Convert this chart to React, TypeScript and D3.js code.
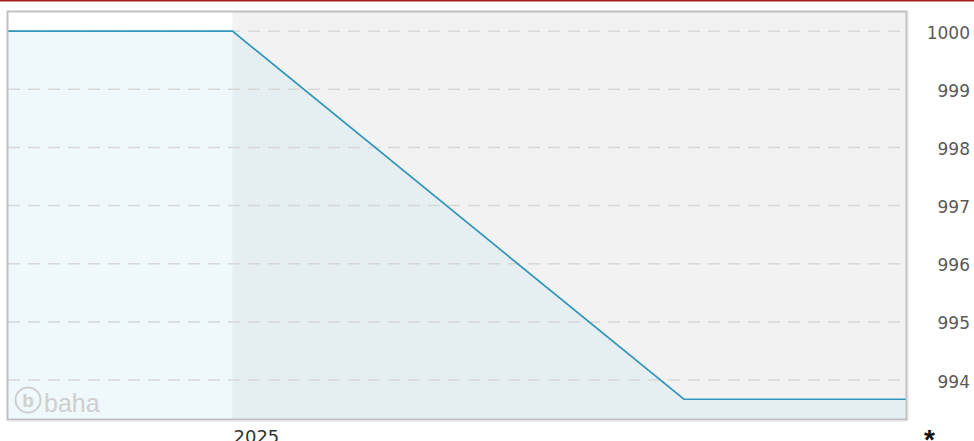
import { useEffect, useRef } from 'react'
import * as d3 from 'd3'

// time points and values of the series
const dates = ['2024-10-02', '2025-01-01', '2025-07-03', '2025-10-01']
const values = [1000, 1000, 993.67, 993.67]
const yTicks = [994, 995, 996, 997, 998, 999, 1000]
const xTickLabels = ['2025']
const highlightStart = '2025-01-01'

const W = 974
const H = 441

export default function App() {
  const svgRef = useRef<SVGSVGElement>(null)

  useEffect(() => {
    if (!svgRef.current) return
    const svg = d3.select(svgRef.current)
    svg.selectAll('*').remove()

    const left = 8
    const right = 906
    const top = 12
    const bottom = 419
    const font = 'DejaVu Sans, Verdana, sans-serif'

    const parse = d3.timeParse('%Y-%m-%d')
    const data = dates.map((d, i) => ({ date: parse(d)!, value: values[i] }))

    const x = d3
      .scaleTime()
      .domain(d3.extent(data, d => d.date) as [Date, Date])
      .range([left, right])
    const y = d3.scaleLinear().domain([993.33, 1000.33]).range([bottom, top])

    // top red rule
    svg.append('rect').attr('x', 0).attr('y', 0).attr('width', W).attr('height', 1.5).attr('fill', '#a61c1c')

    // backgrounds
    const hx = x(parse(highlightStart)!)
    svg.append('rect').attr('x', left).attr('y', top).attr('width', hx - left).attr('height', bottom - top).attr('fill', '#ffffff')
    svg.append('rect').attr('x', hx).attr('y', top).attr('width', right - hx).attr('height', bottom - top).attr('fill', '#f2f2f2')

    // area
    const area = d3
      .area<{ date: Date; value: number }>()
      .x(d => x(d.date))
      .y0(bottom)
      .y1(d => y(d.value))
    svg.append('path').datum(data).attr('d', area).attr('fill', '#b8dde9').attr('fill-opacity', 0.22)

    // grid
    svg
      .append('g')
      .selectAll('line')
      .data(yTicks)
      .join('line')
      .attr('x1', left)
      .attr('x2', right)
      .attr('y1', d => y(d))
      .attr('y2', d => y(d))
      .attr('stroke', '#d8d8d8')
      .attr('stroke-width', 1.5)
      .attr('stroke-dasharray', '12,8')

    // line
    const line = d3
      .line<{ date: Date; value: number }>()
      .x(d => x(d.date))
      .y(d => y(d.value))
    svg.append('path').datum(data).attr('d', line).attr('fill', 'none').attr('stroke', '#3196b9').attr('stroke-width', 1.7)

    // watermark
    svg
      .append('circle')
      .attr('cx', 28)
      .attr('cy', 400)
      .attr('r', 12.5)
      .attr('fill', 'none')
      .attr('stroke', '#cfcfcf')
      .attr('stroke-width', 2)
    svg
      .append('text')
      .attr('x', 28)
      .attr('y', 407)
      .attr('text-anchor', 'middle')
      .attr('font-family', 'Arial, Liberation Sans, sans-serif')
      .attr('font-size', 19)
      .attr('font-weight', 'bold')
      .attr('fill', '#cfcfcf')
      .text('b')
    svg
      .append('text')
      .attr('x', 44)
      .attr('y', 412)
      .attr('font-family', 'Arial, Liberation Sans, sans-serif')
      .attr('font-size', 25)
      .attr('fill', '#cfcfcf')
      .text('baha')

    // frame
    svg
      .append('rect')
      .attr('x', left - 0.5)
      .attr('y', top - 0.5)
      .attr('width', right - left + 1)
      .attr('height', bottom - top + 1)
      .attr('fill', 'none')
      .attr('stroke', '#c0c0c0')
      .attr('stroke-width', 2)
    svg.append('line').attr('x1', left).attr('x2', right + 2).attr('y1', bottom + 2).attr('y2', bottom + 2).attr('stroke', '#e2e2e2').attr('stroke-width', 1)
    svg.append('line').attr('x1', right + 2).attr('x2', right + 2).attr('y1', top).attr('y2', bottom + 2).attr('stroke', '#e2e2e2').attr('stroke-width', 1)

    // y labels
    svg
      .append('g')
      .selectAll('text')
      .data(yTicks)
      .join('text')
      .attr('x', 970)
      .attr('y', d => y(d) + 7.5)
      .attr('text-anchor', 'end')
      .attr('font-family', font)
      .attr('font-size', 17)
      .attr('fill', '#5a5a5a')
      .text(d => String(d))

    // x labels
    svg
      .append('g')
      .selectAll('text')
      .data(xTickLabels)
      .join('text')
      .attr('x', d => x(parse(d + '-01-01')!) + 1)
      .attr('y', 443)
      .attr('font-family', font)
      .attr('font-size', 18)
      .attr('fill', '#333333')
      .text(d => d)

    svg
      .append('text')
      .attr('x', 924)
      .attr('y', 449)
      .attr('font-family', 'Arial, Liberation Sans, sans-serif')
      .attr('font-size', 28)
      .attr('font-weight', 'bold')
      .attr('fill', '#111111')
      .text('*')
  }, [])

  return (
    <div style={{ position: 'absolute', left: 0, top: 0 }}>
      <svg ref={svgRef} width={W} height={H} style={{ display: 'block' }} />
    </div>
  )
}
